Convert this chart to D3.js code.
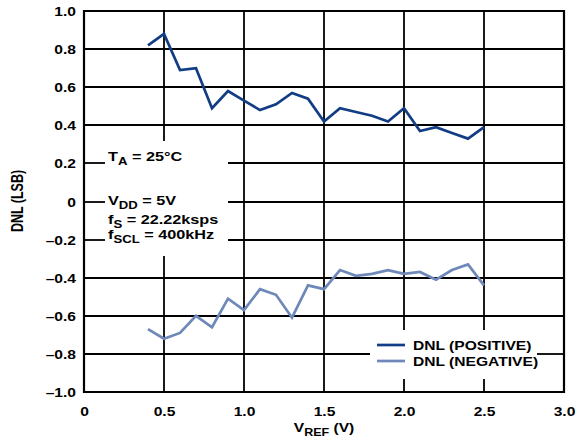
<!DOCTYPE html>
<html><head><meta charset="utf-8">
<script src="https://cdn.jsdelivr.net/npm/d3@7"></script>
<style>body{margin:0;background:#fff}</style>
</head><body><svg id="c" width="584" height="447" xmlns="http://www.w3.org/2000/svg"></svg>
<script>
const vref = [0.4,0.5,0.6,0.7,0.8,0.9,1.0,1.1,1.2,1.3,1.4,1.5,1.6,1.7,1.8,1.9,2.0,2.1,2.2,2.3,2.4,2.5];
const dnlPos = [0.82,0.88,0.69,0.70,0.49,0.58,0.53,0.48,0.51,0.57,0.54,0.42,0.49,0.47,0.45,0.42,0.49,0.37,0.39,0.36,0.33,0.39];
const dnlNeg = [-0.67,-0.72,-0.69,-0.60,-0.66,-0.51,-0.57,-0.46,-0.49,-0.61,-0.44,-0.46,-0.36,-0.39,-0.38,-0.36,-0.38,-0.37,-0.41,-0.36,-0.33,-0.44];
const xTicks = [0,0.5,1.0,1.5,2.0,2.5,3.0];
const xTickLabels = ["0","0.5","1.0","1.5","2.0","2.5","3.0"];
const yTicks = [1.0,0.8,0.6,0.4,0.2,0,-0.2,-0.4,-0.6,-0.8,-1.0];
const yTickLabels = ["1.0","0.8","0.6","0.4","0.2","0","\u20130.2","\u20130.4","\u20130.6","\u20130.8","\u20131.0"];
const seriesNames = ["DNL (POSITIVE)","DNL (NEGATIVE)"];
const colors = ["#123d85","#6d88b9"];

const FONT = "'Liberation Sans', Arial, Helvetica, sans-serif";
const FS = 12.5, SX = 1.25;
const svg = d3.select("#c");
const L=84, R=564, T=11, B=392;
const x = d3.scaleLinear().domain([0,3]).range([L,R]);
const y = d3.scaleLinear().domain([-1,1]).range([B,T]);

function txt(parent, px, py, anchor, size){
  return parent.append("text")
    .attr("transform", `translate(${px},${py}) scale(${SX},1)`)
    .attr("text-anchor", anchor || "start")
    .attr("font-family", FONT).attr("font-weight", "bold")
    .attr("font-size", size || FS).attr("fill", "#000");
}

// grid with gaps around the annotation block and legend
const gaps = [{x0:105,x1:228,y0:141,y1:256},{x0:370,x1:537,y0:330,y1:379}];
function segs(a0,a1,cut){
  let out=[[a0,a1]];
  cut.forEach(([c0,c1])=>{
    out = out.flatMap(([s,e])=> (c1<=s||c0>=e) ? [[s,e]] : [[s,c0],[c1,e]].filter(p=>p[1]-p[0]>0.5));
  });
  return out;
}
const gridG = svg.append("g").attr("stroke","#000").attr("stroke-width",1.8).attr("fill","none");
xTicks.slice(1,-1).forEach(d=>{
  const xx = Math.round(x(d));
  const cut = gaps.filter(g=>xx>g.x0&&xx<g.x1).map(g=>[g.y0,g.y1]);
  segs(T,B,cut).forEach(([s,e])=>{
    gridG.append("line").attr("x1",xx).attr("x2",xx).attr("y1",s).attr("y2",e)
      .attr("stroke","#000").attr("stroke-width",1.8);
  });
});
yTicks.slice(1,-1).forEach(d=>{
  const yy = Math.round(y(d));
  const cut = gaps.filter(g=>yy>g.y0&&yy<g.y1).map(g=>[g.x0,g.x1]);
  segs(L,R,cut).forEach(([s,e])=>{
    gridG.append("line").attr("x1",s).attr("x2",e).attr("y1",yy).attr("y2",yy)
      .attr("stroke","#000").attr("stroke-width",1.8);
  });
});

// frame
svg.append("path").attr("d",`M${L},${T}H${R}V${B}H${L}Z`)
  .attr("fill","none").attr("stroke","#000").attr("stroke-width",2.2);

// axes (labels only)
const ax = svg.append("g").attr("transform",`translate(0,${B})`)
  .call(d3.axisBottom(x).tickValues(xTicks).tickFormat((d,i)=>xTickLabels[i]).tickSize(0).tickPadding(0));
ax.select(".domain").remove();
ax.selectAll("text").attr("dy",null).attr("y",null)
  .attr("transform",`translate(0,24) scale(${SX},1)`)
  .attr("font-size",FS).attr("font-weight","bold").attr("font-family",FONT).attr("fill","#000");
const ay = svg.append("g").attr("transform",`translate(${L},0)`)
  .call(d3.axisLeft(y).tickValues(yTicks).tickFormat((d,i)=>yTickLabels[i]).tickSize(0).tickPadding(0));
ay.select(".domain").remove();
ay.selectAll("text").attr("x",null).attr("dy",null)
  .attr("transform",`translate(-8,4.5) scale(${SX},1)`)
  .attr("font-size",FS).attr("font-weight","bold").attr("font-family",FONT).attr("fill","#000");

// data lines
const line = d3.line().x((d,i)=>x(vref[i])).y(d=>y(d));
[dnlPos,dnlNeg].forEach((s,k)=>{
  svg.append("path").attr("d",line(s)).attr("fill","none").attr("stroke",colors[k])
    .attr("stroke-width",2.7).attr("stroke-linejoin","miter");
});

// legend
seriesNames.forEach((n,k)=>{
  const ly = 345 + k*16;
  svg.append("line").attr("x1",377).attr("x2",405).attr("y1",ly).attr("y2",ly)
    .attr("stroke",colors[k]).attr("stroke-width",2.7);
  txt(svg, 413, ly+4.5).text(n);
});

// annotations
function sub(main, s, rest, xx, yy){
  const t = txt(svg, xx, yy, "start", 13);
  t.append("tspan").text(main);
  t.append("tspan").attr("dy",4).attr("font-size",10.5).text(s);
  t.append("tspan").attr("dy",-4).text(rest);
}
sub("T","A"," = 25°C",108,161);
sub("V","DD"," = 5V",108,205);
sub("f","S"," = 22.22ksps",108,223.5);
sub("f","SCL"," = 400kHz",108,238.5);

// axis titles
const xt = txt(svg, 324, 432, "middle", FS);
xt.append("tspan").text("V");
xt.append("tspan").attr("dy",3.5).attr("font-size",10).text("REF");
xt.append("tspan").attr("dy",-3.5).text(" (V)");
svg.append("text").attr("transform",`translate(23,201) scale(${SX},1) rotate(-90)`).attr("text-anchor","middle")
  .attr("font-family",FONT).attr("font-weight","bold").attr("font-size",FS).text("DNL (LSB)");
</script></body></html>
